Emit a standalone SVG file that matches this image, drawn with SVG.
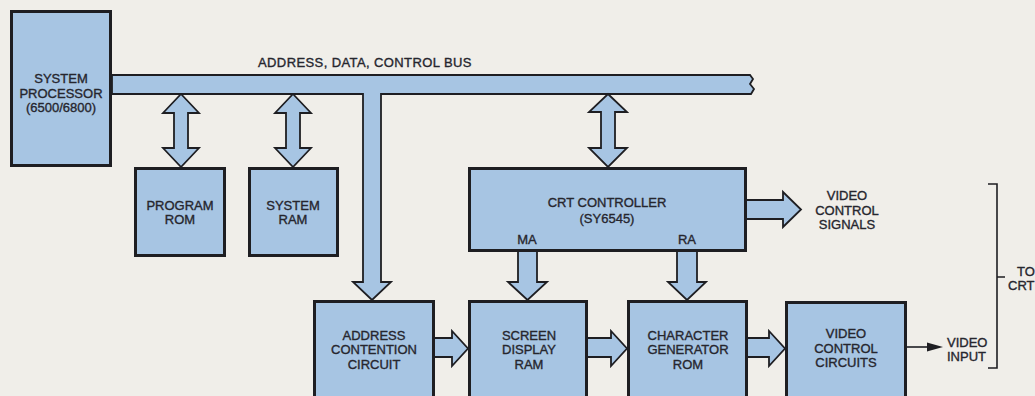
<svg xmlns="http://www.w3.org/2000/svg" width="1035" height="396" viewBox="0 0 1035 396">
<style>
.bg{fill:#f0eee9}
.box{fill:#a7c5e3;stroke:#1e1e22;stroke-width:3}
.arr{fill:#a7c5e3;stroke:#1e1e22;stroke-width:1.8;stroke-linejoin:miter}
.ln{fill:none;stroke:#1e1e22;stroke-width:1.6}
text{font-family:"Liberation Sans",Arial,sans-serif;font-size:13px;fill:#26262e;stroke:#26262e;stroke-width:0.35;text-anchor:middle}
.l{text-anchor:start}
</style>
<rect class="bg" x="0" y="0" width="1035" height="396"/>
<g id="connectors">
<path class="arr" d="M112,75 L750,75 L753,79 L750,84 L754,89 L751,94 L381,94 L381,282 L391,282 L372,300 L353,282 L363,282 L363,94 L112,94 Z"/>
<path class="arr" d="M181,94 L199,113 L188,113 L188,148 L199,148 L181,167 L163,148 L174,148 L174,113 L163,113 Z"/>
<path class="arr" d="M293,94 L311,113 L300,113 L300,148 L311,148 L293,167 L275,148 L286,148 L286,113 L275,113 Z"/>
<path class="arr" d="M608,94 L627,112 L615,112 L615,148 L627,148 L608,167 L589,148 L601,148 L601,112 L589,112 Z"/>
<path class="arr" d="M518,249 V282 H508 L527.5,300 L547,282 H537 V249 Z"/>
<path class="arr" d="M677,249 V282 H668 L687,300 L706,282 H697 V249 Z"/>
<path class="arr" d="M434,338 H452 V331 L468,348.5 L452,366 V357 H434 Z"/>
<path class="arr" d="M587,338 H611 V331 L627,348.5 L611,366 V357 H587 Z"/>
<path class="arr" d="M747,338 H769 V331 L785,348.5 L769,366 V357 H747 Z"/>
<path class="arr" d="M746,200 H783 V192 L801,209.5 L783,227 V219 H746 Z"/>
<line class="ln" x1="907" y1="347" x2="930" y2="347"/>
<polygon points="927,342.5 943,347 927,351.5" fill="#1e1e22"/>
<path class="ln" d="M988,184 H997 V368 H988 M997,277 H1005"/>
</g>
<text class="l" x="258" y="67" style="letter-spacing:0.4px">ADDRESS, DATA, CONTROL BUS</text>
<g id="processor">
<rect class="box" x="11.5" y="11.5" width="99" height="154"/>
<text x="61" y="83">SYSTEM</text>
<text x="61" y="98">PROCESSOR</text>
<text x="61" y="112">(6500/6800)</text>
</g>
<g id="program-rom">
<rect class="box" x="135.5" y="168.5" width="89" height="87"/>
<text x="180" y="210">PROGRAM</text>
<text x="180" y="224">ROM</text>
</g>
<g id="system-ram">
<rect class="box" x="249.5" y="168.5" width="88" height="87"/>
<text x="293" y="210">SYSTEM</text>
<text x="293" y="224">RAM</text>
</g>
<g id="crt-controller">
<rect class="box" x="469.5" y="168.5" width="276" height="82"/>
<text x="607" y="207">CRT CONTROLLER</text>
<text x="607" y="223">(SY6545)</text>
<text x="527" y="244">MA</text>
<text x="687" y="244">RA</text>
</g>
<g id="address-contention">
<rect class="box" x="314.5" y="301.5" width="119" height="100"/>
<text x="374" y="340">ADDRESS</text>
<text x="374" y="354">CONTENTION</text>
<text x="374" y="369">CIRCUIT</text>
</g>
<g id="screen-ram">
<rect class="box" x="469.5" y="301.5" width="117" height="100"/>
<text x="529" y="340">SCREEN</text>
<text x="529" y="354">DISPLAY</text>
<text x="529" y="369">RAM</text>
</g>
<g id="char-rom">
<rect class="box" x="628.5" y="301.5" width="118" height="100"/>
<text x="688" y="340">CHARACTER</text>
<text x="688" y="354">GENERATOR</text>
<text x="688" y="369">ROM</text>
</g>
<g id="video-circuits">
<rect class="box" x="786.5" y="302.5" width="119" height="100"/>
<text x="846" y="338">VIDEO</text>
<text x="846" y="353">CONTROL</text>
<text x="846" y="367">CIRCUITS</text>
</g>
<g id="video-signals-label">
<text x="847" y="200">VIDEO</text>
<text x="847" y="215">CONTROL</text>
<text x="847" y="229">SIGNALS</text>
</g>
<g id="video-input-label">
<text class="l" x="947" y="347">VIDEO</text>
<text class="l" x="947" y="361">INPUT</text>
</g>
<g id="to-crt-label">
<text class="l" x="1017" y="276">TO</text>
<text class="l" x="1008" y="290">CRT</text>
</g>
</svg>
